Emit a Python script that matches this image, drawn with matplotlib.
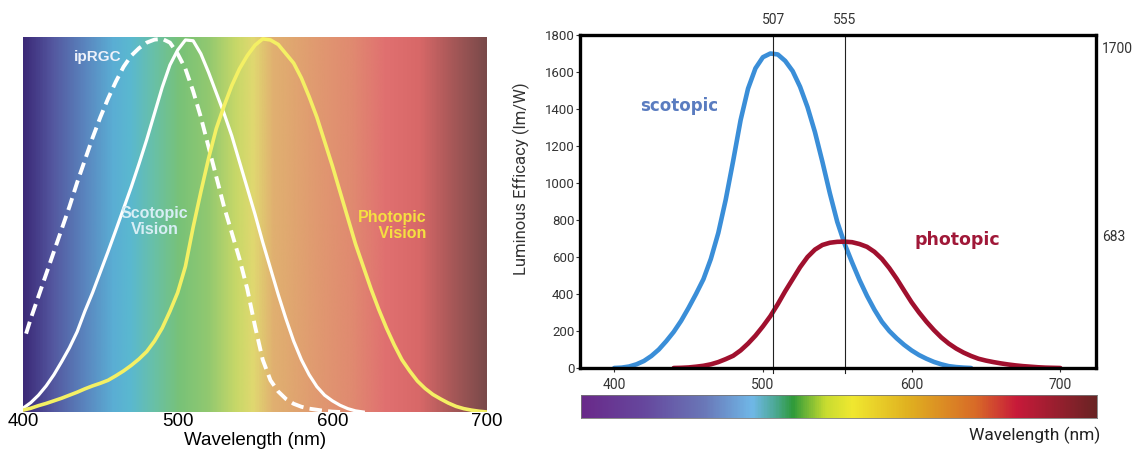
import numpy as np
import matplotlib
matplotlib.use("Agg")
import matplotlib.pyplot as plt
from matplotlib.colors import LinearSegmentedColormap, Normalize

# --- Left panel: normalised sensitivity curves ---
scot_nm = list(range(400, 625, 5))
scot_rel = [0.01, 0.025, 0.045, 0.07, 0.10, 0.135, 0.172, 0.215, 0.27, 0.32,
            0.375, 0.43, 0.487, 0.545, 0.603, 0.665, 0.73, 0.80, 0.87, 0.93,
            0.97, 0.997, 0.995, 0.96, 0.91, 0.855, 0.80, 0.74, 0.67, 0.60,
            0.53, 0.455, 0.385, 0.315, 0.25, 0.19, 0.14, 0.10, 0.068, 0.045,
            0.03, 0.018, 0.009, 0.003, 0.0]

iprgc_nm = [402] + list(range(405, 610, 5))
iprgc_rel = [0.21,
             0.25, 0.31, 0.37, 0.43, 0.49, 0.55, 0.615, 0.675, 0.735, 0.79,
             0.84, 0.885, 0.925, 0.955, 0.975, 0.99, 0.998, 1.0, 0.99, 0.96,
             0.92, 0.86, 0.79, 0.71, 0.63, 0.55, 0.48, 0.41, 0.33, 0.23,
             0.14, 0.085, 0.055, 0.035, 0.022, 0.014, 0.009, 0.006, 0.003, 0.001,
             0.0]

phot_nm = list(range(400, 705, 5))
phot_rel = [0.005, 0.01, 0.017, 0.023, 0.03, 0.037, 0.045, 0.053, 0.062, 0.07,
            0.077, 0.085, 0.097, 0.11, 0.125, 0.142, 0.162, 0.19, 0.225, 0.27,
            0.32, 0.39, 0.495, 0.59, 0.68, 0.76, 0.82, 0.875, 0.92, 0.955,
            0.983, 1.0, 0.997, 0.985, 0.96, 0.935, 0.895, 0.845, 0.79, 0.725,
            0.66, 0.59, 0.52, 0.45, 0.39, 0.33, 0.275, 0.225, 0.18, 0.14,
            0.11, 0.083, 0.063, 0.047, 0.035, 0.024, 0.015, 0.009, 0.005, 0.002,
            0.0]

# background spectrum stops (left panel)
bg_nm = [400, 419, 441, 458, 469, 484, 501, 519, 538, 549, 562, 592, 613, 635, 657, 678, 700]
bg_colors = ["#3c2a78", "#5458a0", "#5a88c0", "#5aaed4", "#5ab8d0", "#68c0a8", "#78c278",
             "#90c870", "#c8d868", "#e0d870", "#e0b070", "#e09870", "#e08a70", "#e07070",
             "#d86868", "#a85858", "#7a4a4a"]

# --- Right panel: luminous efficacy (lm/W) ---
scotopic_nm = list(range(400, 645, 5))
scotopic_eff = [0, 2, 8, 20, 38, 65, 100, 145, 195, 255,
                325, 400, 480, 590, 730, 910, 1120, 1340, 1510, 1620,
                1680, 1700, 1695, 1660, 1605, 1520, 1410, 1275, 1115, 945,
                790, 670, 570, 475, 390, 315, 250, 200, 160, 125,
                95, 70, 50, 33, 20, 10, 5, 2, 0]

photopic_nm = list(range(440, 705, 5))
photopic_eff = [0, 1, 3, 7, 12, 20, 32, 48, 66, 95,
                132, 175, 225, 280, 345, 415, 480, 545, 600, 640,
                665, 677, 682, 683, 680, 670, 655, 628, 590, 540,
                482, 418, 355, 300, 250, 205, 165, 132, 105, 83,
                65, 50, 40, 32, 25, 19, 14, 10, 7, 4,
                2, 1, 0]

peak_nm = [507, 555]
peak_labels = ["507", "555"]
peak_vals = [1700, 683]
y_ticks = list(range(0, 1801, 200))
x_ticks = [400, 500, 600, 700]

# colour bar stops (right panel)
bar_nm = [378, 420, 460, 492, 508, 519, 541, 559, 597, 642, 669, 722]
bar_colors = ["#6a2a8a", "#66489e", "#6a78b8", "#70b8e8", "#4aa890", "#2e9a3a", "#c8dc30",
              "#f0e830", "#e0b020", "#d86a28", "#c81a3a", "#6a2424"]


def spectrum_cmap(nm, colors):
    lo, hi = nm[0], nm[-1]
    pos = [(v - lo) / (hi - lo) for v in nm]
    return LinearSegmentedColormap.from_list("spec", list(zip(pos, colors)))


fig = plt.figure(figsize=(11.35, 4.5), dpi=100)

# --- Left panel ---
axL = fig.add_axes([23 / 1135, 1 - 412 / 450, 464 / 1135, 375 / 450])
grad = np.linspace(bg_nm[0], bg_nm[-1], 600)[None, :]
axL.imshow(grad, extent=(400, 700, 0, 1.005), aspect="auto",
           cmap=spectrum_cmap(bg_nm, bg_colors), norm=Normalize(bg_nm[0], bg_nm[-1]))
axL.plot(iprgc_nm, iprgc_rel, color="white", lw=2.8, dashes=(3.2, 1.6))
axL.plot(scot_nm, scot_rel, color="white", lw=2.3)
axL.plot(phot_nm, phot_rel, color="#f4f064", lw=2.6)
axL.set_xlim(400, 700)
axL.set_ylim(0, 1.005)
for s in axL.spines.values():
    s.set_visible(False)
axL.set_yticks([])
axL.set_xticks(x_ticks)
axL.tick_params(axis="x", length=0, labelsize=13.5, pad=1)
for lab in axL.get_xticklabels():
    lab.set_family("Liberation Sans")
axL.set_xlabel("Wavelength (nm)", fontsize=13.5, family="Liberation Sans", labelpad=1)

axL.text(448, 0.952, "ipRGC", color="#eef2fa", fontsize=11, weight="bold",
         family="Liberation Sans", ha="center", va="center")
axL.text(485, 0.51, "Scotopic\nVision", color="#d8eef5", fontsize=11.5, weight="bold",
         family="Liberation Sans", ha="center", va="center", linespacing=1.1)
axL.text(661, 0.50, "Photopic\n Vision", color="#f5e040", fontsize=11.5, weight="bold",
         family="Liberation Sans", ha="right", va="center", linespacing=1.1)

# --- Right panel ---
axR = fig.add_axes([580 / 1135, 1 - 368 / 450, 516 / 1135, 333 / 450])
axR.plot(scotopic_nm, scotopic_eff, color="#3a8ed8", lw=3.3, solid_capstyle="round",
         solid_joinstyle="round")
axR.plot(photopic_nm, photopic_eff, color="#a0102e", lw=3.3, solid_capstyle="round",
         solid_joinstyle="round")
for x in peak_nm:
    axR.axvline(x, ymin=-0.014, ymax=1, color="#222222", lw=0.8, clip_on=False)
axR.set_xlim(377, 724)
axR.set_ylim(0, 1800)
for s in axR.spines.values():
    s.set_linewidth(2.4)
    s.set_color("black")
axR.set_yticks(y_ticks)
axR.set_xticks(x_ticks)
axR.tick_params(axis="both", direction="out", length=3, width=0.8, color="#333333",
                labelsize=9.5, labelcolor="#333333", pad=1)
axR.tick_params(axis="x", pad=4, labelsize=10)
for lab in axR.get_xticklabels() + axR.get_yticklabels():
    lab.set_family("Roboto")
axR.set_ylabel("Luminous Efficacy (lm/W)", fontsize=12, family="Roboto", color="#333333")
axR.yaxis.set_label_coords(-0.097, 0.57)

for x, lab in zip(peak_nm, peak_labels):
    axR.text(x, 1.045, lab, transform=axR.get_xaxis_transform(), ha="center", va="center",
             fontsize=10, family="Roboto", color="#333333")
for v in peak_vals:
    axR.text(1.012, v + 25, str(v), transform=axR.get_yaxis_transform(), ha="left",
             va="center", fontsize=10, family="Roboto", color="#333333")

axR.text(444, 1416, "scotopic", color="#5a7cc0", fontsize=12, weight="bold",
         family="DejaVu Sans", ha="center", va="center")
axR.text(631, 692, "photopic", color="#a01838", fontsize=12.5, weight="bold",
         family="DejaVu Sans", ha="center", va="center")

# --- Colour bar ---
axB = fig.add_axes([581 / 1135, 1 - 418 / 450, 516 / 1135, 23 / 450])
bar = np.linspace(bar_nm[0], bar_nm[-1], 600)[None, :]
axB.imshow(bar, extent=(bar_nm[0], bar_nm[-1], 0, 1), aspect="auto",
           cmap=spectrum_cmap(bar_nm, bar_colors), norm=Normalize(bar_nm[0], bar_nm[-1]))
axB.set_xticks([])
axB.set_yticks([])
for s in axB.spines.values():
    s.set_color("#777777")
    s.set_linewidth(0.6)

fig.text(1100 / 1135, 1 - 435 / 450, "Wavelength (nm)", ha="right", va="center",
         fontsize=12.5, family="Roboto", color="#222222")

fig.savefig("out.png", dpi=100)
